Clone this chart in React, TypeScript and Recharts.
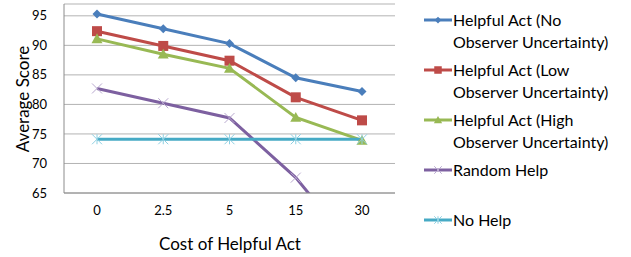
import { LineChart, Line, XAxis, YAxis, CartesianGrid } from 'recharts';

const costs = ['0', '2.5', '5', '15', '30'];
const noUncertainty = [95.3, 92.8, 90.3, 84.5, 82.2];
const lowUncertainty = [92.4, 89.9, 87.4, 81.2, 77.3];
const highUncertainty = [91.1, 88.5, 86.1, 77.8, 73.9];
const randomHelp = [82.7, 80.2, 77.7, 67.6, 54.0];
const noHelp = [74.1, 74.1, 74.1, 74.1, 74.1];
const yTicks = [65, 70, 75, 80, 85, 90, 95];

const data = costs.map((cost, i) => ({
  cost,
  noUnc: noUncertainty[i],
  lowUnc: lowUncertainty[i],
  highUnc: highUncertainty[i],
  random: randomHelp[i],
  none: noHelp[i],
}));

const FONT = 'Lato, "Open Sans", sans-serif';

type Shape = 'diamond' | 'square' | 'triangle' | 'cross' | 'star';

const series: { key: string; name: string[]; color: string; marker: string; shape: Shape }[] = [
  { key: 'noUnc', name: ['Helpful Act (No', 'Observer Uncertainty)'], color: '#4a7ebb', marker: '#4a7ebb', shape: 'diamond' },
  { key: 'lowUnc', name: ['Helpful Act (Low', 'Observer Uncertainty)'], color: '#be4b48', marker: '#be4b48', shape: 'square' },
  { key: 'highUnc', name: ['Helpful Act (High', 'Observer Uncertainty)'], color: '#98b954', marker: '#98b954', shape: 'triangle' },
  { key: 'random', name: ['Random Help', ''], color: '#7d60a0', marker: '#b9a9cf', shape: 'cross' },
  { key: 'none', name: ['No Help', ''], color: '#46aac5', marker: '#8fd0e2', shape: 'star' },
];

const drawMarker = (shape: Shape, cx: number, cy: number, color: string, s: number) => {
  switch (shape) {
    case 'diamond':
      return <polygon points={`${cx},${cy - s} ${cx + s},${cy} ${cx},${cy + s} ${cx - s},${cy}`} fill={color} />;
    case 'square':
      return <rect x={cx - s} y={cy - s} width={s * 2} height={s * 2} fill={color} />;
    case 'triangle':
      return <polygon points={`${cx},${cy - s} ${cx + s},${cy + s * 0.8} ${cx - s},${cy + s * 0.8}`} fill={color} />;
    case 'cross':
      return (
        <g stroke={color} strokeWidth={1}>
          <line x1={cx - s} y1={cy - s} x2={cx + s} y2={cy + s} />
          <line x1={cx - s} y1={cy + s} x2={cx + s} y2={cy - s} />
        </g>
      );
    case 'star':
      return (
        <g stroke={color} strokeWidth={1}>
          <line x1={cx - s} y1={cy - s} x2={cx + s} y2={cy + s} />
          <line x1={cx - s} y1={cy + s} x2={cx + s} y2={cy - s} />
          <line x1={cx} y1={cy - s} x2={cx} y2={cy + s} />
        </g>
      );
  }
};

const markerSize: Record<Shape, number> = { diamond: 4.5, square: 5, triangle: 5.5, cross: 5, star: 5 };

const Legend = () => (
  <div style={{ position: 'absolute', left: 424, top: 8, fontFamily: FONT, fontSize: 16, color: '#000' }}>
    {series.map((s) => (
      <div key={s.key} style={{ display: 'flex', height: 50 }}>
        <svg width={29} height={24} style={{ flex: 'none' }}>
          <line x1={0} y1={12} x2={28} y2={12} stroke={s.color} strokeWidth={3} />
          {drawMarker(s.shape, 14, 12, s.marker, markerSize[s.shape] * 0.75)}
        </svg>
        <div style={{ lineHeight: '22px', marginTop: 1 }}>
          <div>{s.name[0]}</div>
          <div>{s.name[1]}</div>
        </div>
      </div>
    ))}
  </div>
);

export default function App() {
  return (
    <div style={{ position: 'absolute', left: 0, top: 0, width: 631, height: 257, background: '#fff' }}>
      <LineChart width={631} height={257} data={data} margin={{ top: 4, right: 236, bottom: 0, left: 0 }}>
        <CartesianGrid vertical={false} stroke="#b3b3b3" strokeWidth={1} />
        <XAxis
          dataKey="cost"
          padding={{ left: 33, right: 33 }}
          tickLine={false}
          tickSize={0}
          tickMargin={13}
          stroke="#8c8c8c"
          height={64}
          interval={0}
          tick={{ fill: '#000', fontSize: 13, fontFamily: FONT }}
          label={{
            content: () => (
              <text x={230} y={243} textAnchor="middle" dominantBaseline="central" fontFamily={FONT} fontSize={17} fill="#000">
                Cost of Helpful Act
              </text>
            ),
          }}
        />
        <YAxis
          domain={[65, 97]}
          ticks={yTicks}
          interval={0}
          allowDataOverflow
          width={64}
          tickLine={false}
          tickSize={0}
          tickMargin={17}
          stroke="#8c8c8c"
          tick={{ fill: '#000', fontSize: 13, fontFamily: FONT }}
          label={{
            content: () => (
              <text x={22} y={99} transform="rotate(-90 22 99)" textAnchor="middle" dominantBaseline="central" fontFamily={FONT} fontSize={17} fill="#000">
                Average Score
              </text>
            ),
          }}
        />
        {series.map((s) => (
          <Line
            key={s.key}
            dataKey={s.key}
            stroke={s.color}
            strokeWidth={3}
            isAnimationActive={false}
            dot={(p: any) => <g key={`${s.key}-${p.index}`}>{drawMarker(s.shape, p.cx, p.cy, s.marker, markerSize[s.shape])}</g>}
            activeDot={false}
          />
        ))}
      </LineChart>
      <Legend />
    </div>
  );
}
